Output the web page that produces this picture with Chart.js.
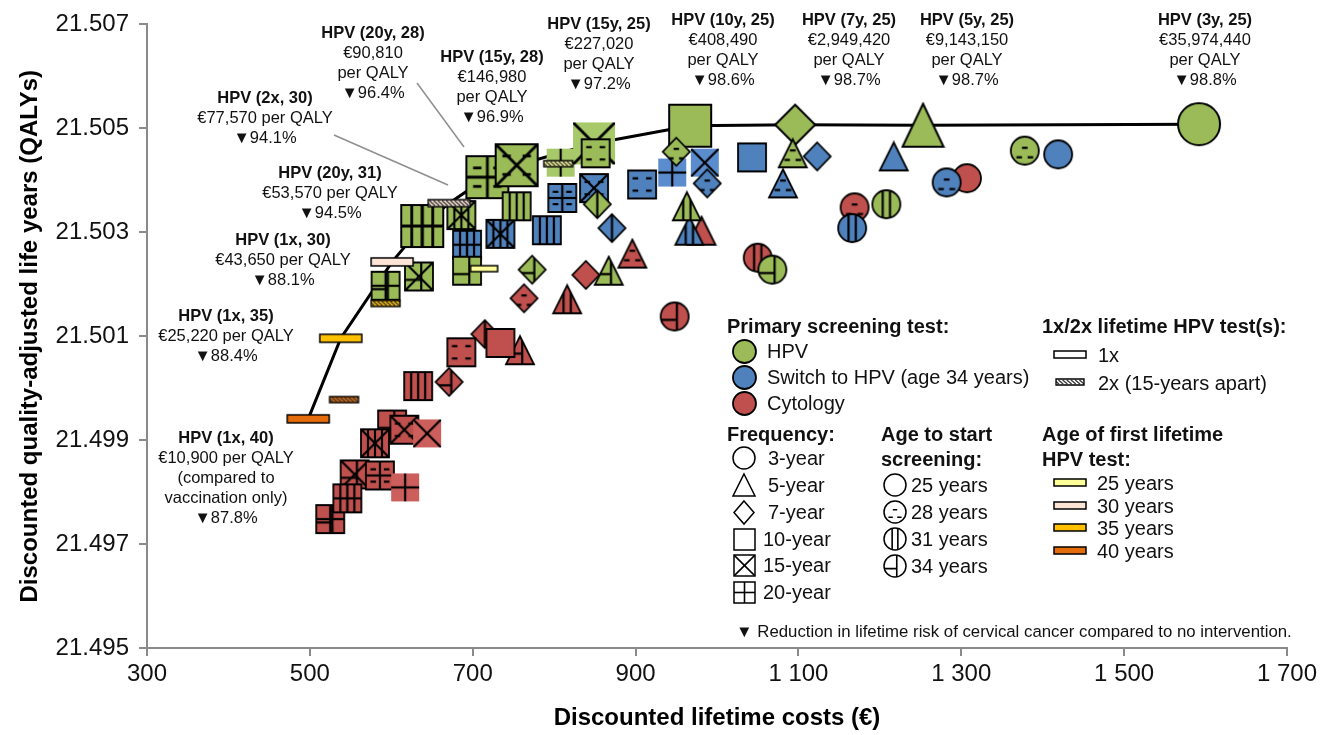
<!DOCTYPE html>
<html><head><meta charset="utf-8">
<script src="https://cdn.jsdelivr.net/npm/chart.js@4.4.1/dist/chart.umd.min.js"></script>
<style>html,body{margin:0;padding:0;background:#fff}</style>
</head><body>
<canvas id="c" width="1336" height="735"></canvas>
<script>
// ---------------- DATA ----------------
const freqYears = [3, 5, 7, 10, 15, 20];
const freqLabels = ['3-year', '5-year', '7-year', '10-year', '15-year', '20-year'];
const startAges = [25, 28, 31, 34];
const switchAges = [25, 28, 31];
const lifetimeAges = [25, 30, 35, 40];

// Primary HPV screening: rows = frequency, columns = age to start (25, 28, 31, 34)
const hpvCost = [
  [1592, 1378, 1208, 1068],
  [1253, 1093, 963, 867],
  [1096, 950, 853, 773],
  [967, 851, 754, 693],
  [849, 754, 686, 634],
  [808, 718, 638, 593]
];
const hpvQaly = [
  [21.50508, 21.50457, 21.50354, 21.50228],
  [21.50506, 21.50452, 21.50350, 21.50226],
  [21.50507, 21.50455, 21.50354, 21.50228],
  [21.50505, 21.50452, 21.50350, 21.50226],
  [21.50471, 21.50429, 21.50333, 21.50215],
  [21.50434, 21.50406, 21.50312, 21.50197]
];
// Switch to HPV at age 34: columns = age to start (25, 28, 31)
const switchCost = [
  [1419, 1282, 1166],
  [1217, 1081, 966],
  [1123, 988, 871],
  [1043, 908, 791],
  [985, 849, 734],
  [945, 810, 693]
];
const switchQaly = [
  [21.50450, 21.50396, 21.50308],
  [21.50446, 21.50394, 21.50303],
  [21.50446, 21.50394, 21.50308],
  [21.50444, 21.50392, 21.50304],
  [21.50434, 21.50385, 21.50297],
  [21.50415, 21.50366, 21.50276]
];
// Cytology: columns = age to start (25, 28, 31, 34)
const cytoCost = [
  [1307, 1169, 1050, 948],
  [981, 896, 816, 758],
  [839, 763, 715, 671],
  [734, 686, 633, 601],
  [644, 616, 580, 555],
  [617, 586, 546, 525]
];
const cytoQaly = [
  [21.50404, 21.50348, 21.50251, 21.50138],
  [21.50303, 21.50259, 21.50171, 21.50073],
  [21.50218, 21.50173, 21.50104, 21.50012],
  [21.50087, 21.50069, 21.50004, 21.49930],
  [21.49913, 21.49920, 21.49894, 21.49834],
  [21.49809, 21.49832, 21.49788, 21.49748]
];
// 1x / 2x lifetime HPV tests by age of first test (25, 30, 35, 40)
const onceCost = [714, 601, 538, 498];
const onceQaly = [21.50230, 21.50243, 21.50096, 21.49941];
const twiceCost = [805, 671, 593, 542];
const twiceQaly = [21.50432, 21.50356, 21.50163, 21.49978];

// Efficient frontier (strategy references)
const frontierSteps = [['1x', 40], ['1x', 35], ['1x', 30], [20, 31], ['2x', 30], [20, 28], [15, 28], [15, 25], [10, 25], [7, 25], [5, 25], [3, 25]];

const xTicks = [300, 500, 700, 900, 1100, 1300, 1500, 1700];

// ---------------- STYLE ----------------
const GREEN = '#9BBB59', BLUE = '#4F81BD', RED = '#C0504D';
const GREEN_L = '#A7C96A', BLUE_L = '#5B8DCE', RED_L = '#CC5E5B';
const BAR_COLORS = {25: '#FFFF99', 30: '#FCE4D6', 35: '#FFC000', 40: '#E46C0A'};
const SHAPES = ['circle', 'triangle', 'diamond', 'square', 'square', 'square'];
const SIZE_N = {circle: [28, 28], triangle: [28, 28], diamond: [27, 28], square: [28, 28]};
const SIZE_B = {circle: [42, 42], triangle: [41, 43], diamond: [40, 40], square: [42, 42]};

function marker(o) {
  const w = o.w, h = o.h, pad = 2;
  const c = document.createElement('canvas');
  c.width = Math.ceil(w + 2 * pad); c.height = Math.ceil(h + 2 * pad);
  const g = c.getContext('2d');
  g.translate(c.width / 2, c.height / 2);
  const hw = w / 2, hh = h / 2;
  const path = () => {
    g.beginPath();
    if (o.shape === 'circle') g.arc(0, 0, hw, 0, Math.PI * 2);
    else if (o.shape === 'triangle') { g.moveTo(0, -hh); g.lineTo(hw, hh); g.lineTo(-hw, hh); g.closePath(); }
    else if (o.shape === 'diamond') { g.moveTo(0, -hh); g.lineTo(hw, 0); g.lineTo(0, hh); g.lineTo(-hw, 0); g.closePath(); }
    else g.rect(-hw, -hh, w, h);
  };
  path(); g.fillStyle = o.fill; g.fill();
  g.save(); path(); g.clip();
  g.strokeStyle = '#000'; g.lineWidth = o.plw || 2;
  const L = (x1, y1, x2, y2) => { g.beginPath(); g.moveTo(x1, y1); g.lineTo(x2, y2); g.stroke(); };
  if (o.freq === 15) { L(-hw, -hh, hw, hh); L(hw, -hh, -hw, hh); }
  if (o.freq === 20) { L(0, -hh, 0, hh); L(-hw, 0, hw, 0); }
  const sq = o.shape === 'square';
  if (o.age === 28) {
    const d = w * 0.1;
    const pts = sq ? [[-.24, -.22], [.24, -.22], [-.24, .22], [.24, .22]] : [[0, -.1], [-.2, .24], [.2, .24]];
    pts.forEach(([px, py]) => L(px * w - d, py * h, px * w + d, py * h));
  }
  if (o.age === 31) {
    const xs = sq ? [-.25, 0, .25] : (o.shape === 'diamond' ? [0] : [-.13, .13]);
    xs.forEach(px => L(px * w, -hh, px * w, hh));
  }
  if (o.age === 34) {
    L(.08 * w, -hh, .08 * w, hh);
    L(-hw, .12 * h, .08 * w, .12 * h);
  }
  if (o.hatch) {
    g.strokeStyle = '#3a3a3a'; g.lineWidth = 1.4;
    for (let x = -hw - h; x < hw + h; x += 4.2) L(x, -hh + 1, x + h * 0.8, hh - 1);
  }
  g.restore();
  if (o.border !== false) { path(); g.strokeStyle = '#000'; g.lineWidth = o.blw || 1.8; g.stroke(); }
  return c;
}

function isFrontier(kind, a, b) {
  return frontierSteps.some(s => s[0] === a && s[1] === b && (kind === 'hpv' ? typeof a === 'number' : true));
}

function buildGroup(kind, cost, qaly, ages, color, light, ageOrder) {
  const pts = [], styles = [];
  ageOrder.forEach(ai => {
    for (let fi = freqYears.length - 1; fi >= 0; fi--) {
      const f = freqYears[fi], a = ages[ai];
      const shape = SHAPES[fi];
      const big = kind === 'hpv' && isFrontier('hpv', f, a);
      const [w, h] = (big ? SIZE_B : SIZE_N)[shape];
      const isLight = f >= 15 && a === 25;
      pts.push({x: cost[fi][ai], y: qaly[fi][ai]});
      styles.push(marker({shape, w, h, fill: isLight ? light : color, border: !isLight,
        freq: f, age: a, plw: big ? 2.8 : 2.2, blw: big ? 2 : 1.8}));
    }
  });
  return {pts, styles};
}

const hpvG = buildGroup('hpv', hpvCost, hpvQaly, startAges, GREEN, GREEN_L, [0, 1, 2, 3]);
const swG = buildGroup('switch', switchCost, switchQaly, switchAges, BLUE, BLUE_L, [0, 1, 2]);
const cyG = buildGroup('cyto', cytoCost, cytoQaly, startAges, RED, RED_L, [3, 2, 1, 0]);

const barPts = [], barStyles = [];
lifetimeAges.forEach((a, i) => {
  const big = isFrontier('bar', '1x', a);
  barPts.push({x: onceCost[i], y: onceQaly[i]});
  barStyles.push(marker({shape: 'bar', w: big ? 42 : 27, h: big ? 8 : 6, fill: BAR_COLORS[a], blw: 1.5}));
});
lifetimeAges.forEach((a, i) => {
  const big = isFrontier('bar', '2x', a);
  barPts.push({x: twiceCost[i], y: twiceQaly[i]});
  barStyles.push(marker({shape: 'bar', w: big ? 42 : 29, h: big ? 7 : 6, fill: BAR_COLORS[a], hatch: true, blw: 1.3}));
});

const frontierPts = frontierSteps.map(([a, b]) => {
  if (a === '1x') { const i = lifetimeAges.indexOf(b); return {x: onceCost[i], y: onceQaly[i]}; }
  if (a === '2x') { const i = lifetimeAges.indexOf(b); return {x: twiceCost[i], y: twiceQaly[i]}; }
  const fi = freqYears.indexOf(a), ai = startAges.indexOf(b);
  return {x: hpvCost[fi][ai], y: hpvQaly[fi][ai]};
});

// ---------------- ANNOTATIONS ----------------
const annotations = [
  {x: 373, y: 33, lines: ['HPV (20y, 28)', '€90,810', 'per QALY', '▼96.4%']},
  {x: 492, y: 57, lines: ['HPV (15y, 28)', '€146,980', 'per QALY', '▼96.9%']},
  {x: 599, y: 24, lines: ['HPV (15y, 25)', '€227,020', 'per QALY', '▼97.2%']},
  {x: 723, y: 20, lines: ['HPV (10y, 25)', '€408,490', 'per QALY', '▼98.6%']},
  {x: 849, y: 20, lines: ['HPV (7y, 25)', '€2,949,420', 'per QALY', '▼98.7%']},
  {x: 967, y: 20, lines: ['HPV (5y, 25)', '€9,143,150', 'per QALY', '▼98.7%']},
  {x: 1205, y: 20, lines: ['HPV (3y, 25)', '€35,974,440', 'per QALY', '▼98.8%']},
  {x: 265, y: 98, lines: ['HPV (2x, 30)', '€77,570 per QALY', '▼94.1%']},
  {x: 330, y: 173, lines: ['HPV (20y, 31)', '€53,570 per QALY', '▼94.5%']},
  {x: 283, y: 240, lines: ['HPV (1x, 30)', '€43,650 per QALY', '▼88.1%']},
  {x: 226, y: 316, lines: ['HPV (1x, 35)', '€25,220 per QALY', '▼88.4%']},
  {x: 226, y: 438, lines: ['HPV (1x, 40)', '€10,900 per QALY', '(compared to', 'vaccination only)', '▼87.8%']}
];
const leaders = [[334, 135, 448, 185], [417, 83, 464, 147]];

const FONT = "'Liberation Sans', Arial, Helvetica, sans-serif";
Chart.defaults.font.family = FONT;

const annotPlugin = {
  id: 'annot',
  beforeDatasetsDraw(chart) {
    const g = chart.ctx; g.save();
    g.strokeStyle = '#8f8f8f'; g.lineWidth = 1.5;
    leaders.forEach(([a, b, c, d]) => { g.beginPath(); g.moveTo(a, b); g.lineTo(c, d); g.stroke(); });
    g.restore();
  },
  afterDatasetsDraw(chart) {
    const g = chart.ctx; g.save();
    g.textAlign = 'center'; g.textBaseline = 'middle'; g.fillStyle = '#111';
    annotations.forEach(an => {
      an.lines.forEach((t, i) => {
        g.font = (i === 0 ? 'bold ' : '') + '16.5px ' + FONT;
        g.fillText(t, an.x, an.y + i * 20.2);
      });
    });
    // ---- legend ----
    g.textAlign = 'left';
    const T = (t, x, y, bold, size) => { g.font = (bold ? 'bold ' : '') + (size || 20) + 'px ' + FONT; g.fillText(t, x, y); };
    const D = (m, x, y) => g.drawImage(m, Math.round(x - m.width / 2), Math.round(y - m.height / 2));
    T('Primary screening test:', 727, 327, true);
    [[GREEN, 'HPV', 351], [BLUE, 'Switch to HPV (age 34 years)', 377], [RED, 'Cytology', 403]].forEach(([c, t, y]) => {
      D(marker({shape: 'circle', w: 23, h: 23, fill: c, blw: 1.8}), 744, y);
      T(t, 767, y + 1);
    });
    T('1x/2x lifetime HPV test(s):', 1042, 327, true);
    D(marker({shape: 'bar', w: 32, h: 7, fill: '#fff', blw: 1.5}), 1070, 354); T('1x', 1098, 356);
    D(marker({shape: 'bar', w: 28, h: 6, fill: '#fff', hatch: true, blw: 1.3}), 1070, 382); T('2x (15-years apart)', 1098, 384);

    T('Frequency:', 727, 435, true);
    const fy = [458, 485, 512, 539, 565, 592];
    SHAPES.forEach((s, i) => {
      const sz = s === 'square' ? [21, 21] : (s === 'diamond' ? [20, 23] : [22, 22]);
      D(marker({shape: s, w: sz[0], h: sz[1], fill: '#fff', freq: freqYears[i], plw: 1.6, blw: 1.5}), 744, fy[i]);
      T(freqLabels[i], i >= 3 ? 763 : 768, fy[i] + 1);
    });
    T('Age to start', 881, 435, true); T('screening:', 881, 460, true);
    const ay = [485, 512, 539, 566];
    startAges.forEach((a, i) => {
      D(marker({shape: 'circle', w: 22, h: 22, fill: '#fff', age: a === 25 ? 0 : a, plw: 1.6, blw: 1.5}), 895, ay[i]);
      T(a + ' years', 911, ay[i] + 1);
    });
    T('Age of first lifetime', 1042, 435, true); T('HPV test:', 1042, 460, true);
    const by = [482, 505, 527, 550];
    lifetimeAges.forEach((a, i) => {
      D(marker({shape: 'bar', w: 32, h: 7, fill: BAR_COLORS[a], blw: 1.5}), 1070, by[i]);
      T(a + ' years', 1097, by[i] + 2);
    });
    T('▼ Reduction in lifetime risk of cervical cancer compared to no intervention.', 736, 632, false, 16.8);
    g.restore();
  }
};

const fmtX = v => v >= 1000 ? Math.floor(v / 1000) + ' ' + String(v % 1000).padStart(3, '0') : String(v);

new Chart(document.getElementById('c'), {
  type: 'scatter',
  data: {
    datasets: [
      {label: 'Lifetime tests', data: barPts, pointStyle: c => barStyles[c.dataIndex], pointRadius: 4},
      {label: 'HPV', data: hpvG.pts, pointStyle: c => hpvG.styles[c.dataIndex], pointRadius: 4},
      {label: 'Switch', data: swG.pts, pointStyle: c => swG.styles[c.dataIndex], pointRadius: 4},
      {label: 'Cytology', data: cyG.pts, pointStyle: c => cyG.styles[c.dataIndex], pointRadius: 4},
      {label: 'Frontier', data: frontierPts, showLine: true, borderColor: '#000', borderWidth: 3, pointRadius: 0, tension: 0, fill: false}
    ]
  },
  options: {
    responsive: false, animation: false, events: [],
    layout: {padding: {left: 0, right: 49, top: 20, bottom: 0}},
    plugins: {legend: {display: false}, tooltip: {enabled: false}},
    scales: {
      x: {
        type: 'linear', min: 300, max: 1700,
        afterBuildTicks: s => { s.ticks = xTicks.map(v => ({value: v})); },
        ticks: {color: '#111', font: {size: 24}, padding: 4, maxRotation: 0, autoSkip: false, callback: v => fmtX(v)},
        grid: {drawOnChartArea: false, drawTicks: true, tickLength: 8, color: '#8a8a8a', lineWidth: 2},
        border: {color: '#8a8a8a', width: 2},
        title: {display: true, text: 'Discounted lifetime costs (€)', color: '#000', font: {size: 24, weight: 'bold'}, padding: {top: 2, bottom: 2}},
        afterFit: s => { s.height = 87; }
      },
      y: {
        type: 'linear', min: 21.495, max: 21.507,
        ticks: {stepSize: 0.002, color: '#111', font: {size: 24}, padding: 10, callback: v => Number(v).toFixed(3)},
        grid: {drawOnChartArea: false, drawTicks: true, tickLength: 8, color: '#8a8a8a', lineWidth: 2},
        border: {color: '#8a8a8a', width: 2},
        title: {display: true, text: 'Discounted quality-adjusted life years (QALYs)', color: '#000', font: {size: 24, weight: 'bold'}, padding: {top: 16, bottom: 0}},
        afterFit: s => { s.width = 147; }
      }
    }
  },
  plugins: [annotPlugin]
});
</script>
</body></html>
